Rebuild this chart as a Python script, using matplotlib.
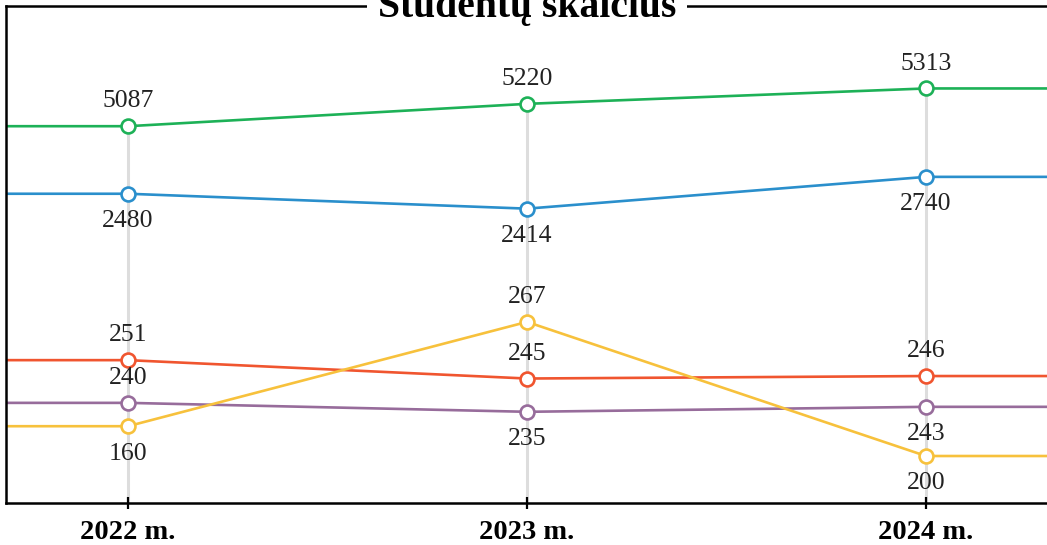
#!/usr/bin/env python3
"""Studentų skaičius 2022-2024 (slope-style line chart)"""

import matplotlib
matplotlib.use('Agg')
import matplotlib.pyplot as plt
from matplotlib import rcParams

rcParams['font.family'] = ['Liberation Serif', 'DejaVu Serif']

# ---- data ----
metai = [2022, 2023, 2024]
metu_zymes = ['2022 m.', '2023 m.', '2024 m.']

# label values shown next to each point
zalia_reiksmes = [5087, 5220, 5313]
melyna_reiksmes = [2480, 2414, 2740]
raudona_reiksmes = [251, 245, 246]
violetine_reiksmes = [240, 235, 243]
geltona_reiksmes = [160, 267, 200]

# vertical position of each point on the chart (0 = bottom, 100 = top)
zalia_pozicija = [75.8, 80.3, 83.4]
melyna_pozicija = [62.2, 59.2, 65.6]
raudona_pozicija = [28.7, 25.0, 25.5]
violetine_pozicija = [20.1, 18.3, 19.3]
geltona_pozicija = [15.4, 36.4, 9.4]

serijos = [
    (zalia_reiksmes, zalia_pozicija, '#1db157', ['up', 'up', 'up']),
    (melyna_reiksmes, melyna_pozicija, '#2a8fcc', ['down', 'down', 'down']),
    (raudona_reiksmes, raudona_pozicija, '#f0552f', ['up', 'up', 'up']),
    (violetine_reiksmes, violetine_pozicija, '#976c9b', ['up', 'down', 'down']),
    (geltona_reiksmes, geltona_pozicija, '#f7c13c', ['down', 'up', 'down']),
]

W, H = 1047, 545
fig = plt.figure(figsize=(W / 100, H / 100), dpi=100)
left, right, top, bottom = 6, 1048.5, 6, 502.7
ax = fig.add_axes([left / W, 1 - bottom / H, (right - left) / W, (bottom - top) / H])

x0 = 2022 - 122 / 399
x1 = 2024 + 122.5 / 399
ax.set_xlim(x0, x1)
ax.set_ylim(0, 100)

# grey guides from the bottom up to the highest point of each year
virsus = [max(s[1][i] for s in serijos) for i in range(len(metai))]
ax.vlines(metai, 0, virsus, color='#dddddd', linewidth=2.2, zorder=1)

for reiksmes, pozicija, spalva, vietos in serijos:
    xs = [x0] + metai + [x1]
    ys = [pozicija[0]] + pozicija + [pozicija[-1]]
    ax.plot(xs, ys, color=spalva, linewidth=1.9, zorder=2, solid_capstyle='butt')
    ax.plot(metai, pozicija, linestyle='none', marker='o', markersize=10,
            markerfacecolor='white', markeredgecolor=spalva,
            markeredgewidth=1.9, zorder=3)
    for x, y, v, kur in zip(metai, pozicija, reiksmes, vietos):
        dy = 13.5 if kur == 'up' else -24
        ax.annotate(str(v), (x, y), xytext=(0, dy), textcoords='offset points',
                    ha='center', va='baseline', fontsize=18.5, color='#222222',
                    zorder=4)

for s in ['left', 'bottom', 'top']:
    ax.spines[s].set_linewidth(1.8)
    ax.spines[s].set_color('black')
ax.spines['right'].set_visible(False)

ax.set_yticks([])
ax.set_xticks(metai)
ax.set_xticklabels(metu_zymes, fontsize=20.5, fontweight='bold')
ax.tick_params(axis='x', direction='inout', length=9, width=1.6, pad=8)

fig.text(527 / W, 1 - 17.3 / H, 'Studentų skaičius', ha='center', va='baseline',
         fontsize=28.5, fontweight='bold', color='black',
         bbox=dict(facecolor='white', edgecolor='none', pad=8))

fig.savefig('out.png', dpi=100)
